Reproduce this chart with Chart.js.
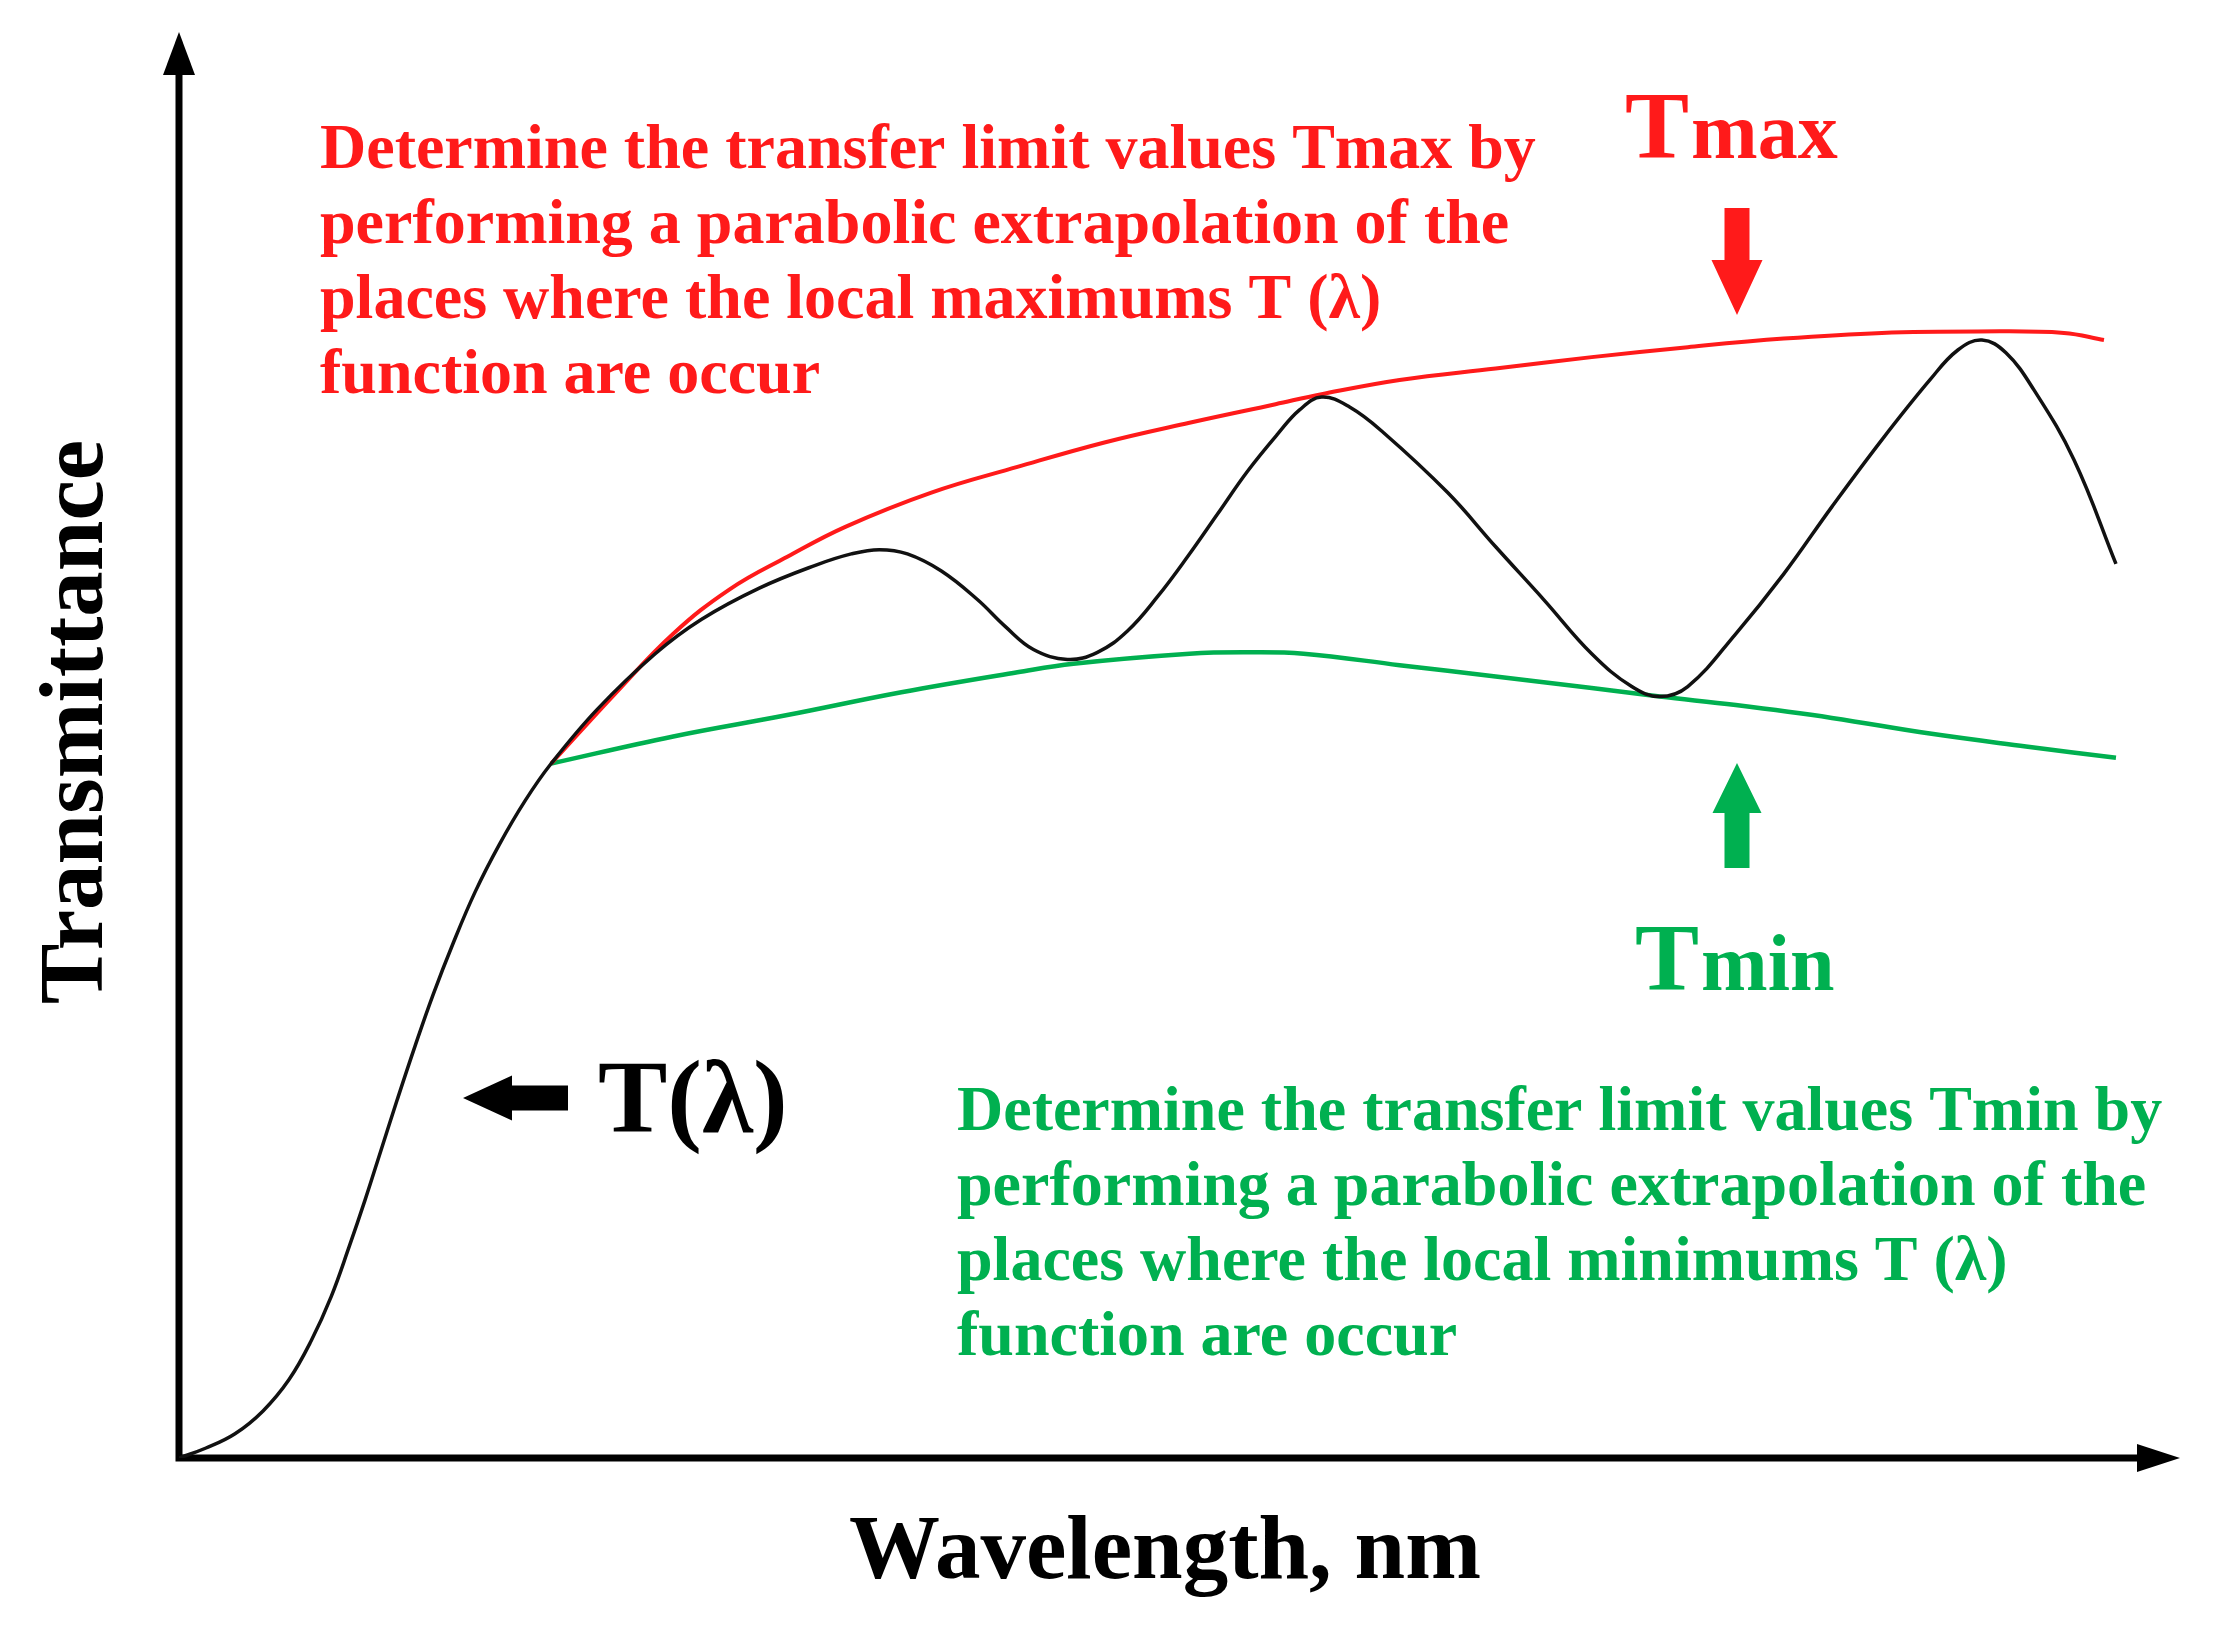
<!DOCTYPE html>
<html>
<head>
<meta charset="utf-8">
<script src="https://cdn.jsdelivr.net/npm/chart.js@4.4.1/dist/chart.umd.min.js"></script>
<style>
  html, body { margin: 0; padding: 0; background: #fff; }
</style>
</head>
<body>
<canvas id="transmittanceChart" width="2230" height="1637"></canvas>
<script>
// measured transmittance curve T(lambda), arbitrary units 0..100
const tLambdaX = [0, 1.35, 2.8, 4.2, 5.5, 6.6, 7.6, 8.5, 9.3, 10.1, 10.9, 11.8, 12.7, 13.7, 14.8, 16.0, 17.3, 18.6,
    20.9, 23.8, 26.1, 29.0, 31.8, 33.6, 35.0, 36.4, 38.1, 39.9, 41.3, 42.7, 44.4, 45.9, 47.4, 48.9, 50.4, 51.9, 53.4,
    54.9, 56.0, 57.1, 58.5, 60.2, 63.4, 65.8, 68.2, 70.6, 72.6, 74.0, 75.4, 77.8, 80.2, 82.6, 85.1, 87.5, 88.9, 90.1,
    91.3, 92.7, 94.7, 96.8];
const tLambdaY = [0, 0.7, 1.7, 3.3, 5.5, 8.2, 11.3, 14.8, 18.1, 21.6, 25.1, 28.9, 32.5, 36.1, 39.7, 43.0, 46.1, 48.7,
    52.5, 56.4, 58.8, 61.0, 62.6, 63.4, 63.7, 63.4, 62.2, 60.2, 58.3, 56.7, 56.0, 56.5, 58.0, 60.4, 63.2, 66.2, 69.2,
    71.8, 73.5, 74.4, 73.7, 71.9, 67.7, 63.9, 60.2, 56.4, 54.1, 53.4, 54.1, 57.8, 62.0, 66.7, 71.4, 75.6, 77.7, 78.4,
    77.5, 74.9, 70.0, 62.7];

// upper envelope Tmax
const tMaxX = [18.6, 21.8, 24.7, 27.5, 30.4, 33.3, 37.6, 41.9, 46.2, 50.5, 54.8, 57.1, 61.0, 65.8, 70.6, 75.4, 80.2, 85.1, 89.9, 94.2, 96.2];
const tMaxY = [48.7, 53.6, 57.8, 60.9, 63.2, 65.3, 67.7, 69.5, 71.2, 72.6, 73.9, 74.6, 75.6, 76.4, 77.2, 77.9, 78.5, 78.9, 79.0, 78.9, 78.4];

// lower envelope Tmin
const tMinX = [18.6, 24.7, 30.4, 36.1, 41.9, 44.7, 50.5, 53.3, 56.2, 61.0, 65.8, 70.6, 74.0, 77.8, 82.6, 87.5, 92.3, 96.8];
const tMinY = [48.7, 50.6, 52.1, 53.7, 55.1, 55.7, 56.4, 56.5, 56.4, 55.6, 54.8, 54.0, 53.4, 52.8, 51.9, 50.8, 49.9, 49.1];

const xTitle = 'Wavelength, nm';
const yTitle = 'Transmittance';
const maxNote = ['Determine the transfer limit values Tmax by', 'performing a parabolic extrapolation of the',
    'places where the local maximums T (\u03bb)', 'function are occur'];
const minNote = ['Determine the transfer limit values Tmin by', 'performing a parabolic extrapolation of the',
    'places where the local minimums T (\u03bb)', 'function are occur'];

const RED = '#ff1a1a';
const GREEN = '#00b050';
const SERIF = '"Liberation Serif", "Times New Roman", serif';

function toPoints(xs, ys) {
    return xs.map((x, i) => ({ x: x, y: ys[i] }));
}

function blockArrow(ctx, tipX, tipY, dx, dy, headLen, headW, totalLen, shaftW) {
    const px = -dy, py = dx;
    const bx = tipX - dx * headLen, by = tipY - dy * headLen;
    const ex = tipX - dx * totalLen, ey = tipY - dy * totalLen;
    ctx.beginPath();
    ctx.moveTo(tipX, tipY);
    ctx.lineTo(bx + px * headW / 2, by + py * headW / 2);
    ctx.lineTo(bx + px * shaftW / 2, by + py * shaftW / 2);
    ctx.lineTo(ex + px * shaftW / 2, ey + py * shaftW / 2);
    ctx.lineTo(ex - px * shaftW / 2, ey - py * shaftW / 2);
    ctx.lineTo(bx - px * shaftW / 2, by - py * shaftW / 2);
    ctx.lineTo(bx - px * headW / 2, by - py * headW / 2);
    ctx.closePath();
    ctx.fill();
}

function bigT(ctx, text, x, y, color) {
    // big capital T followed by the smaller letters
    ctx.fillStyle = color;
    ctx.textAlign = 'left';
    ctx.font = 'bold 96px ' + SERIF;
    ctx.fillText('T', x, y);
    const w = ctx.measureText('T').width;
    ctx.font = 'bold 80px ' + SERIF;
    ctx.fillText(text, x + w + 2, y);
}

const schemePlugin = {
    id: 'scheme',
    beforeDatasetsDraw(chart) {
        const ctx = chart.ctx;
        const a = chart.chartArea;
        ctx.save();
        ctx.strokeStyle = '#000';
        ctx.fillStyle = '#000';
        ctx.lineWidth = 7;
        ctx.beginPath();
        ctx.moveTo(a.left, a.top + 30);
        ctx.lineTo(a.left, a.bottom);
        ctx.lineTo(a.right - 30, a.bottom);
        ctx.stroke();
        blockArrow(ctx, a.left, a.top, 0, -1, 43, 32, 43, 0);
        blockArrow(ctx, a.right, a.bottom, 1, 0, 43, 28, 43, 0);

        // axis titles
        ctx.textBaseline = 'alphabetic';
        ctx.font = 'bold 91px ' + SERIF;
        ctx.textAlign = 'left';
        ctx.fillText(xTitle, 849, 1578);
        ctx.save();
        ctx.translate(102, 722);
        ctx.rotate(-Math.PI / 2);
        ctx.textAlign = 'center';
        ctx.fillText(yTitle, 0, 0);
        ctx.restore();
        ctx.restore();
    },
    afterDatasetsDraw(chart) {
        const ctx = chart.ctx;
        ctx.save();
        ctx.textBaseline = 'alphabetic';
        ctx.textAlign = 'left';

        ctx.font = 'bold 64px ' + SERIF;
        ctx.fillStyle = RED;
        maxNote.forEach((line, i) => ctx.fillText(line, 320, 168 + i * 75));
        ctx.fillStyle = GREEN;
        minNote.forEach((line, i) => ctx.fillText(line, 957, 1130 + i * 75));

        bigT(ctx, 'max', 1625, 158, RED);
        bigT(ctx, 'min', 1635, 990, GREEN);

        ctx.fillStyle = RED;
        blockArrow(ctx, 1737, 315, 0, 1, 55, 51, 107, 25);
        ctx.fillStyle = GREEN;
        blockArrow(ctx, 1737, 763, 0, -1, 50, 49, 105, 25);
        ctx.fillStyle = '#000';
        blockArrow(ctx, 463, 1098, -1, 0, 49, 45, 105, 25);

        ctx.font = 'bold 104px ' + SERIF;
        ctx.fillText('T(\u03bb)', 598, 1132);
        ctx.restore();
    }
};

const chartCtx = document.getElementById('transmittanceChart').getContext('2d');
const transmittanceChart = new Chart(chartCtx, {
    type: 'line',
    data: {
        datasets: [
            {
                label: 'T(\u03bb)',
                data: toPoints(tLambdaX, tLambdaY),
                borderColor: '#111',
                borderWidth: 3.5,
                pointRadius: 0,
                tension: 0.4
            },
            {
                label: 'Tmax',
                data: toPoints(tMaxX, tMaxY),
                borderColor: RED,
                borderWidth: 4,
                pointRadius: 0,
                tension: 0.4
            },
            {
                label: 'Tmin',
                data: toPoints(tMinX, tMinY),
                borderColor: GREEN,
                borderWidth: 4.5,
                pointRadius: 0,
                tension: 0.4
            }
        ]
    },
    options: {
        responsive: false,
        animation: false,
        devicePixelRatio: 1,
        layout: { padding: { left: 179, right: 50, top: 32, bottom: 179 } },
        scales: {
            x: { type: 'linear', min: 0, max: 100, display: false },
            y: { type: 'linear', min: 0, max: 100, display: false }
        },
        plugins: {
            legend: { display: false },
            tooltip: { enabled: false }
        }
    },
    plugins: [schemePlugin]
});
</script>
</body>
</html>
